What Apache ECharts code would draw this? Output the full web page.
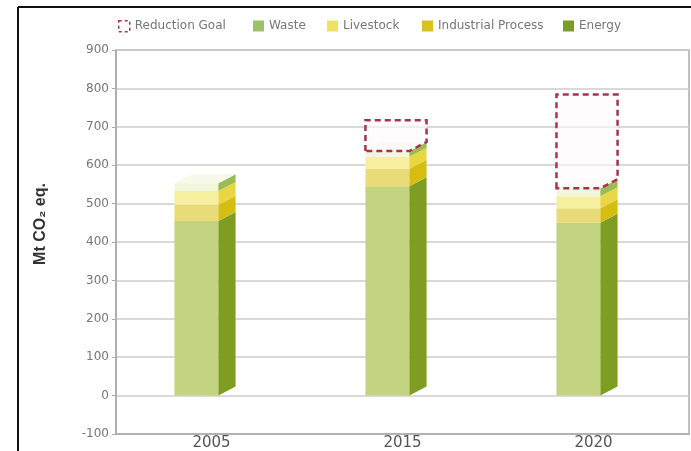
<!DOCTYPE html>
<html>
<head>
<meta charset="utf-8">
<script src="https://cdn.jsdelivr.net/npm/echarts@6/dist/echarts.min.js"></script>
<style>html,body{margin:0;padding:0;background:#fff}#c{width:691px;height:451px}</style>
</head>
<body>
<div id="c"></div>
<script>
const categories = ['2005', '2015', '2020'];
const energy = [455, 545, 450];
const industrial = [42, 46, 38];
const livestock = [36, 31, 31];
const waste = [20, 15, 21];
const reductionGoal = [0, 80, 244];
const yTicks = { min: -100, max: 900, interval: 100 };

const layers = [
  { name: 'Energy', values: energy, front: '#c3d480', side: '#7f9d22', legend: '#7c9c2a' },
  { name: 'Industrial Process', values: industrial, front: '#e9dc78', side: '#d6bd12', legend: '#d8c21e' },
  { name: 'Livestock', values: livestock, front: '#f5ef9f', side: '#e9d644', legend: '#efe263' },
  { name: 'Waste', values: waste, front: '#f2f6da', side: '#9dbb55', legend: '#9cc267' }
];

const FRONT_OFF = 0.194, FRONT_W = 0.23, DEPTH = 0.09, SKEW = 9;

function geom(api, i, base, top) {
  const pT = api.coord([i, top]);
  const pB = api.coord([i, base]);
  const bw = api.size([1, 0])[0];
  const xl = pT[0] - FRONT_OFF * bw;
  const xr = xl + FRONT_W * bw;
  const d = DEPTH * bw;
  return { xl, xr, d, yT: pT[1], yB: pB[1] };
}

const cum = categories.map(() => 0);
const series = layers.map((L, li) => {
  const data = categories.map((c, i) => {
    const b = cum[i];
    cum[i] += L.values[i];
    return [i, b, cum[i]];
  });
  const isTop = li === layers.length - 1;
  return {
    name: L.name,
    type: 'custom',
    itemStyle: { color: L.legend },
    data: data,
    z: 2,
    renderItem: function (params, api) {
      const g = geom(api, api.value(0), api.value(1), api.value(2));
      const children = [
        { type: 'rect', shape: { x: g.xl, y: g.yT, width: g.xr - g.xl, height: g.yB - g.yT }, style: { fill: L.front } },
        { type: 'polygon', shape: { points: [[g.xr, g.yT], [g.xr + g.d, g.yT - SKEW], [g.xr + g.d, g.yB - SKEW], [g.xr, g.yB]] }, style: { fill: L.side } }
      ];
      if (isTop) {
        children.push({ type: 'polygon', shape: { points: [[g.xl, g.yT], [g.xr, g.yT], [g.xr + g.d, g.yT - SKEW], [g.xl + g.d, g.yT - SKEW]] }, style: { fill: '#f7f9ea' } });
      }
      return { type: 'group', children: children };
    }
  };
});

const goalData = categories.map((c, i) => [i, cum[i], cum[i] + reductionGoal[i]]);
series.unshift({
  name: 'Reduction Goal',
  type: 'custom',
  itemStyle: { color: '#b03050' },
  z: 3,
  data: goalData.filter(d => d[2] > d[1]),
  renderItem: function (params, api) {
    const g = geom(api, api.value(0), api.value(1), api.value(2));
    return {
      type: 'polygon',
      shape: { points: [[g.xl, g.yB], [g.xl, g.yT], [g.xr + g.d, g.yT], [g.xr + g.d, g.yB - SKEW], [g.xr, g.yB]] },
      style: { fill: 'rgba(255,250,251,0.6)', stroke: '#a8324f', lineWidth: 2.5, lineDash: [6, 4] }
    };
  }
});

const legendPos = [
  { name: 'Reduction Goal', left: 113, dashed: true },
  { name: 'Waste', left: 248 },
  { name: 'Livestock', left: 322 },
  { name: 'Industrial Process', left: 417 },
  { name: 'Energy', left: 558 }
];
const colorOf = {};
layers.forEach(L => colorOf[L.name] = L.legend);
const legends = legendPos.map(p => ({
  left: p.left, top: 15, itemWidth: 11, itemHeight: 11, itemGap: 5,
  textStyle: { fontFamily: 'DejaVu Sans', fontSize: 12, color: '#777' },
  data: [p.dashed
    ? { name: p.name, icon: 'rect', itemStyle: { color: '#fff', borderColor: '#b03050', borderWidth: 1.5, borderType: [3, 3] } }
    : { name: p.name, icon: 'rect', itemStyle: { color: colorOf[p.name] } }]
}));

const chart = echarts.init(document.getElementById('c'), null, { renderer: 'canvas' });
chart.setOption({
  animation: false,
  backgroundColor: '#fff',
  legend: legends,
  grid: { left: 116, right: 2, top: 50, height: 387, show: true, borderColor: '#aaa', borderWidth: 1.5, backgroundColor: 'transparent' },
  xAxis: {
    type: 'category', data: categories, position: 'bottom',
    axisLine: { show: true, onZero: false, lineStyle: { color: '#aaa', width: 1.5 } },
    axisTick: { show: false },
    axisLabel: { fontFamily: 'DejaVu Sans', fontSize: 15, color: '#555', margin: 2 }
  },
  yAxis: {
    type: 'value', min: yTicks.min, max: yTicks.max, interval: yTicks.interval,
    axisLine: { show: true, lineStyle: { color: '#aaa', width: 1.5 } },
    axisTick: { show: true, length: 4, lineStyle: { color: '#aaa' } },
    axisLabel: { fontFamily: 'DejaVu Sans', fontSize: 12, color: '#777', margin: 7 },
    splitLine: { show: true, lineStyle: { color: '#cdcdcd', width: 1.5 } }
  },
  graphic: [
    { type: 'line', shape: { x1: 18, y1: 7, x2: 691, y2: 7 }, style: { stroke: '#111', lineWidth: 2 } },
    { type: 'line', shape: { x1: 18, y1: 7, x2: 18, y2: 451 }, style: { stroke: '#111', lineWidth: 2 } },
    { type: 'text', x: 41, y: 224, rotation: Math.PI / 2, style: { text: 'Mt CO₂ eq.', fontFamily: 'Liberation Sans', fontWeight: 'bold', fontSize: 16, fill: '#333', textAlign: 'center', textVerticalAlign: 'middle' } }
  ],
  series: series
});
</script>
</body>
</html>
